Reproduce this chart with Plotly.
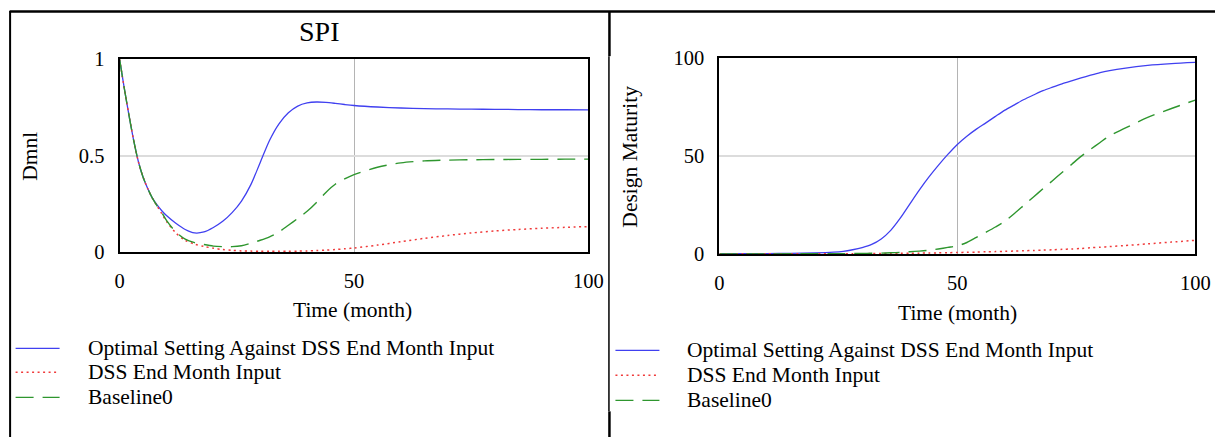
import plotly.graph_objects as go

# The photographed page shows the figure slightly rescaled and offset; positions below are
# given in picture pixels and converted to figure pixels with these measured factors.
SX, OX = 0.984, 4.4
SY, OY = 0.9505, 9.9
W, H = 1230, 450

# ---------------- data ----------------
t_spi = [0, 1, 2, 3, 4, 5, 6, 7, 8, 9, 10, 12, 14, 16, 18, 20, 22, 24, 26, 28, 30,
         32, 34, 36, 38, 40, 42, 44, 46, 48, 50, 55, 60, 65, 70, 75, 80, 85, 90, 95, 100]
spi_optimal = [1.0, 0.85, 0.71, 0.58, 0.47, 0.39, 0.33, 0.28, 0.245, 0.215, 0.19, 0.15, 0.118,
               0.10, 0.105, 0.128, 0.16, 0.205, 0.265, 0.35, 0.465, 0.58, 0.665, 0.722, 0.757,
               0.773, 0.778, 0.776, 0.771, 0.765, 0.76, 0.752, 0.747, 0.744, 0.742, 0.741,
               0.74, 0.739, 0.738, 0.738, 0.737]
spi_dss = [1.0, 0.85, 0.71, 0.58, 0.47, 0.39, 0.33, 0.28, 0.24, 0.2, 0.16, 0.1, 0.062,
           0.042, 0.03, 0.021, 0.014, 0.01, 0.007, 0.006, 0.005, 0.005, 0.005, 0.005, 0.006,
           0.007, 0.009, 0.011, 0.014, 0.018, 0.022, 0.037, 0.055, 0.072, 0.087, 0.1,
           0.11, 0.118, 0.124, 0.129, 0.133]
spi_baseline = [1.0, 0.85, 0.71, 0.58, 0.47, 0.39, 0.33, 0.28, 0.24, 0.205, 0.165, 0.105, 0.068,
                0.05, 0.04, 0.032, 0.029, 0.029, 0.034, 0.047, 0.062, 0.08, 0.105, 0.14, 0.175,
                0.212, 0.258, 0.31, 0.352, 0.38, 0.402, 0.44, 0.463, 0.473, 0.477, 0.479,
                0.48, 0.481, 0.481, 0.482, 0.482]

t_dm = [0, 5, 10, 15, 20, 24, 26, 28, 30, 32, 34, 36, 38, 40, 42, 44, 46, 48, 50, 52, 54,
        56, 58, 60, 62, 64, 66, 68, 70, 72, 74, 76, 78, 80, 82, 85, 90, 95, 100]
dm_optimal = [0.3, 0.3, 0.35, 0.45, 0.7, 1.1, 1.5, 2.3, 3.4, 5.0, 7.8, 12.2, 18.4, 25.6, 32.7,
              39.3, 45.3, 50.9, 56.0, 60.2, 63.8, 67.0, 70.3, 73.5, 76.2, 78.9, 81.2, 83.4,
              85.2, 86.9, 88.4, 89.9, 91.3, 92.6, 93.6, 94.8, 96.3, 97.2, 97.8]
dm_dss = [0.2, 0.2, 0.2, 0.2, 0.2, 0.25, 0.27, 0.28, 0.3, 0.33, 0.37, 0.41, 0.45, 0.5, 0.56,
          0.63, 0.7, 0.8, 0.9, 1.0, 1.1, 1.25, 1.35, 1.5, 1.65, 1.8, 1.95, 2.1, 2.3, 2.5,
          2.7, 2.95, 3.3, 3.6, 3.9, 4.4, 5.3, 6.2, 7.1]
dm_baseline = [0.2, 0.2, 0.2, 0.22, 0.25, 0.3, 0.33, 0.37, 0.4, 0.5, 0.6, 0.75, 0.95, 1.3, 1.6,
               2.0, 2.7, 3.5, 4.3, 6.0, 8.6, 11.2, 13.9, 16.9, 20.8, 25.0, 29.2, 33.4, 37.5,
               41.7, 45.8, 49.9, 53.5, 57.0, 60.4, 64.0, 69.8, 74.3, 78.6]

series_names = ["Optimal Setting Against DSS End Month Input", "DSS End Month Input", "Baseline0"]
spi_ticks = [0, 0.5, 1]
spi_ticktext = ["0", "0.5", "1"]
dm_ticks = [0, 50, 100]
time_ticks = [0, 50, 100]

# ---------------- styles ----------------
FONT = "Liberation Serif, Times New Roman, serif"
styles = [
    dict(color="#4040f0", width=1.3, dash="solid"),
    dict(color="#f03a3a", width=1.5, dash="2px,3.5px"),
    dict(color="#2e962e", width=1.4, dash="18px,9px"),
]

def px_x(x):
    return ((x - OX) / SX) / W

def px_y(y):
    return 1 - ((y - OY) / SY) / H

fig = go.Figure()

for vals, st, nm in zip([spi_optimal, spi_dss, spi_baseline], styles, series_names):
    fig.add_trace(go.Scatter(x=t_spi, y=vals, mode="lines", name=nm,
                             line=dict(shape="spline", smoothing=0.8, **st),
                             xaxis="x", yaxis="y", showlegend=False))
for vals, st, nm in zip([dm_optimal, dm_dss, dm_baseline], styles, series_names):
    fig.add_trace(go.Scatter(x=t_dm, y=vals, mode="lines", name=nm,
                             line=dict(shape="spline", smoothing=0.8, **st),
                             xaxis="x2", yaxis="y2", showlegend=False))

axis_common = dict(showline=True, mirror=True, linecolor="black", linewidth=2, zeroline=False,
                   ticks="", tickfont=dict(family=FONT, size=20.5, color="black"), fixedrange=True)

fig.update_layout(
    width=W, height=H, margin=dict(l=0, r=0, t=0, b=0),
    paper_bgcolor="white", plot_bgcolor="white",
    font=dict(family=FONT, color="black"),
    xaxis=dict(domain=[px_x(119), px_x(588)], range=[0, 100], tickvals=time_ticks,
               showgrid=True, gridcolor="#b4b4b4", gridwidth=1, ticklabelstandoff=9,
               anchor="y", **axis_common),
    yaxis=dict(domain=[px_y(251), px_y(58)], range=[0, 1], tickvals=spi_ticks, ticktext=spi_ticktext,
               showgrid=True, gridcolor="#dcdcdc", gridwidth=2, ticklabelstandoff=9,
               anchor="x", **axis_common),
    xaxis2=dict(domain=[px_x(719), px_x(1195)], range=[0, 100], tickvals=time_ticks,
                showgrid=True, gridcolor="#b4b4b4", gridwidth=1, ticklabelstandoff=9,
                anchor="y2", **axis_common),
    yaxis2=dict(domain=[px_y(253), px_y(57)], range=[0, 100], tickvals=dm_ticks,
                showgrid=True, gridcolor="#dcdcdc", gridwidth=2, ticklabelstandoff=9,
                anchor="x2", **axis_common),
    showlegend=False,
)

ann = []
def text(x, y, s, size=21.5, xanchor="center", angle=0):
    ann.append(dict(x=px_x(x), y=px_y(y), xref="paper", yref="paper", text=s, showarrow=False,
                    xanchor=xanchor, yanchor="middle", textangle=angle,
                    font=dict(family=FONT, size=size, color="black")))

text(318, 30, "SPI", size=28)
text(30, 155, "Dmnl", angle=-90)
text(630, 155, "Design Maturity", angle=-90)
text(352, 309, "Time (month)")
text(957, 312, "Time (month)")

shapes = []
def seg(x0, y0, x1, y1, color="black", width=2, dash="solid"):
    shapes.append(dict(type="line", xref="paper", yref="paper", x0=px_x(x0), y0=px_y(y0),
                       x1=px_x(x1), y1=px_y(y1), line=dict(color=color, width=width, dash=dash)))

legend_rows = [(15, 85, [347, 371, 396]), (615, 685, [349, 374, 399])]
for lx, tx, rows in legend_rows:
    for nm, st, ry in zip(series_names, styles, rows):
        seg(lx, ry, lx + 44, ry, color=st["color"], width=st["width"], dash=st["dash"])
        text(tx, ry, nm, xanchor="left")

# frame of the composed image
seg(9, 10.5, 1220, 10.5, width=2.5)
seg(9.5, 10, 9.5, 440, width=2)
seg(609, 10, 609, 55, width=2.5)
seg(608.5, 55, 608.5, 410, width=1.5)
seg(609, 410, 609, 440, width=2.5)

fig.update_layout(annotations=ann, shapes=shapes)
fig.write_html("out.html")
